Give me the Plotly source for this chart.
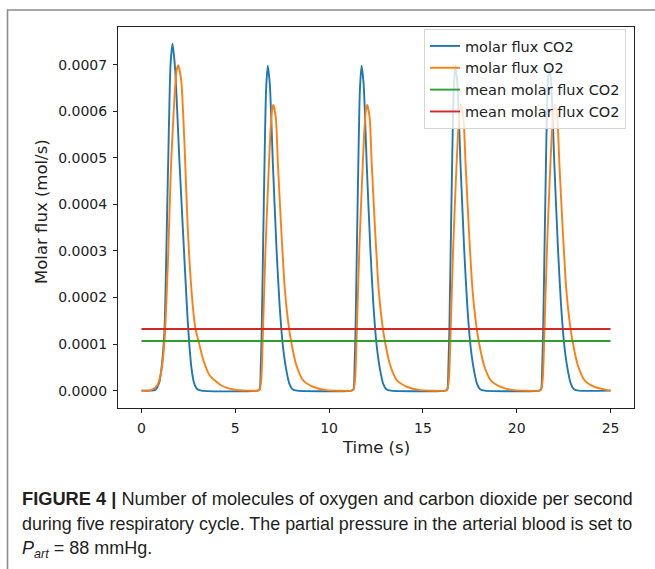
import plotly.graph_objects as go

# ---------------- data ----------------
co2_time = [
    0.00, 0.50, 0.75, 0.96, 1.10, 1.23, 1.35, 1.46, 1.55, 1.66, 1.80, 2.03, 2.30, 2.45, 2.55, 2.66, 2.80, 2.95, 3.20,
    6.20, 6.30, 6.36, 6.41, 6.48, 6.57, 6.64, 6.73, 6.84, 7.01, 7.20, 7.36, 7.48, 7.60, 7.73, 7.88, 8.05, 8.30,
    11.20, 11.30, 11.36, 11.41, 11.48, 11.57, 11.64, 11.73, 11.84, 12.01, 12.20, 12.36, 12.48, 12.60, 12.73, 12.88, 13.05, 13.30,
    16.20, 16.30, 16.36, 16.41, 16.48, 16.57, 16.64, 16.73, 16.84, 17.01, 17.20, 17.36, 17.48, 17.60, 17.73, 17.88, 18.05, 18.30,
    21.20, 21.30, 21.36, 21.41, 21.48, 21.57, 21.64, 21.73, 21.84, 22.01, 22.20, 22.36, 22.48, 22.60, 22.73, 22.88, 23.05, 23.30,
    25.00,
]
co2_flux = [
    0.0, 0.0, 0.02e-4, 0.19e-4, 0.60e-4, 1.32e-4, 3.46e-4, 5.59e-4, 7.01e-4, 7.45e-4, 6.87e-4, 4.88e-4, 2.75e-4, 1.60e-4, 1.00e-4, 0.50e-4, 0.17e-4, 0.04e-4, 0.0,
    0.0, 0.03e-4, 0.54e-4, 1.32e-4, 3.03e-4, 5.16e-4, 6.44e-4, 6.98e-4, 6.59e-4, 4.81e-4, 3.03e-4, 1.85e-4, 1.20e-4, 0.75e-4, 0.42e-4, 0.15e-4, 0.03e-4, 0.0,
    0.0, 0.03e-4, 0.54e-4, 1.32e-4, 3.03e-4, 5.16e-4, 6.44e-4, 6.98e-4, 6.59e-4, 4.81e-4, 3.03e-4, 1.85e-4, 1.20e-4, 0.75e-4, 0.42e-4, 0.15e-4, 0.03e-4, 0.0,
    0.0, 0.03e-4, 0.54e-4, 1.32e-4, 3.03e-4, 5.16e-4, 6.44e-4, 6.98e-4, 6.59e-4, 4.81e-4, 3.03e-4, 1.85e-4, 1.20e-4, 0.75e-4, 0.42e-4, 0.15e-4, 0.03e-4, 0.0,
    0.0, 0.03e-4, 0.54e-4, 1.32e-4, 3.03e-4, 5.16e-4, 6.44e-4, 6.98e-4, 6.59e-4, 4.81e-4, 3.03e-4, 1.85e-4, 1.20e-4, 0.75e-4, 0.42e-4, 0.15e-4, 0.03e-4, 0.0,
    0.0,
]

o2_time = [
    0.00, 0.40, 0.61, 0.85, 1.05, 1.23, 1.41, 1.58, 1.76, 1.87, 1.96, 2.12, 2.30, 2.47, 2.69, 2.88, 3.04, 3.28, 3.63, 4.26, 4.97,
    6.20, 6.30, 6.39, 6.48, 6.61, 6.75, 6.87, 6.96, 7.03, 7.16, 7.28, 7.46, 7.64, 7.82, 7.98, 8.26, 8.62, 9.15, 9.85,
    11.20, 11.30, 11.39, 11.48, 11.61, 11.75, 11.87, 11.96, 12.03, 12.16, 12.28, 12.46, 12.64, 12.82, 12.98, 13.26, 13.62, 14.15, 14.85,
    16.20, 16.30, 16.39, 16.48, 16.61, 16.75, 16.87, 16.96, 17.03, 17.16, 17.28, 17.46, 17.64, 17.82, 17.98, 18.26, 18.62, 19.15, 19.85,
    21.20, 21.30, 21.39, 21.48, 21.61, 21.75, 21.87, 21.96, 22.03, 22.16, 22.28, 22.46, 22.64, 22.82, 22.98, 23.26, 23.62, 24.15, 24.85,
    25.00,
]
o2_flux = [
    0.0, 0.0, 0.03e-4, 0.12e-4, 0.40e-4, 1.07e-4, 2.75e-4, 4.88e-4, 6.30e-4, 6.87e-4, 6.99e-4, 6.66e-4, 5.23e-4, 3.46e-4, 2.03e-4, 1.32e-4, 1.07e-4, 0.68e-4, 0.33e-4, 0.11e-4, 0.02e-4,
    0.0, 0.02e-4, 0.26e-4, 1.32e-4, 3.03e-4, 4.45e-4, 5.52e-4, 6.02e-4, 6.14e-4, 5.87e-4, 4.81e-4, 3.39e-4, 2.18e-4, 1.47e-4, 1.05e-4, 0.54e-4, 0.22e-4, 0.08e-4, 0.01e-4,
    0.0, 0.02e-4, 0.26e-4, 1.32e-4, 3.03e-4, 4.45e-4, 5.52e-4, 6.02e-4, 6.14e-4, 5.87e-4, 4.81e-4, 3.39e-4, 2.18e-4, 1.47e-4, 1.05e-4, 0.54e-4, 0.22e-4, 0.08e-4, 0.01e-4,
    0.0, 0.02e-4, 0.26e-4, 1.32e-4, 3.03e-4, 4.45e-4, 5.52e-4, 6.02e-4, 6.14e-4, 5.87e-4, 4.81e-4, 3.39e-4, 2.18e-4, 1.47e-4, 1.05e-4, 0.54e-4, 0.22e-4, 0.08e-4, 0.01e-4,
    0.0, 0.02e-4, 0.26e-4, 1.32e-4, 3.03e-4, 4.45e-4, 5.52e-4, 6.02e-4, 6.14e-4, 5.87e-4, 4.81e-4, 3.39e-4, 2.18e-4, 1.47e-4, 1.05e-4, 0.54e-4, 0.22e-4, 0.08e-4, 0.01e-4,
    0.0,
]

mean_time = [0.0, 25.0]
mean_green = [1.067e-4, 1.067e-4]
mean_red = [1.323e-4, 1.323e-4]

series_names = ["molar flux CO2", "molar flux O2", "mean molar flux CO2", "mean molar flux CO2"]
series_colors = ["#1f77b4", "#ff7f0e", "#2ca02c", "#d62728"]

x_ticks = [0, 5, 10, 15, 20, 25]
y_ticks = [0.0, 0.0001, 0.0002, 0.0003, 0.0004, 0.0005, 0.0006, 0.0007]
y_tick_labels = ["0.0000", "0.0001", "0.0002", "0.0003", "0.0004", "0.0005", "0.0006", "0.0007"]

caption_lines = [
    "<b>FIGURE 4 |</b> Number of molecules of oxygen and carbon dioxide per second",
    "during five respiratory cycle. The partial pressure in the arterial blood is set to",
    "<i>P</i><sub><i>art</i></sub> = 88 mmHg.",
]

# ---------------- figure ----------------
W, H = 655, 569
fig = go.Figure()

xs = [co2_time, o2_time, mean_time, mean_time]
ys = [co2_flux, o2_flux, mean_green, mean_red]
for i in range(4):
    fig.add_trace(go.Scatter(
        x=xs[i], y=ys[i], mode="lines", name=series_names[i],
        line=dict(color=series_colors[i], width=1.9, shape="spline" if i < 2 else "linear", smoothing=0.6),
        hoverinfo="skip",
    ))

tick_font = dict(family="DejaVu Sans", size=14, color="#222222")

px_left, px_right, px_top, px_bottom = 118, 634, 26.5, 408

fig.update_layout(
    width=W, height=H,
    margin=dict(l=0, r=0, t=0, b=0),
    paper_bgcolor="white", plot_bgcolor="white",
    showlegend=True,
    legend=dict(
        x=626 / W, y=1 - 29 / H, xanchor="right", yanchor="top",
        bgcolor="rgba(255,255,255,0.8)", bordercolor="#d5d5d5", borderwidth=1,
        font=dict(family="DejaVu Sans", size=14.5, color="#222222"),
        itemwidth=30, tracegroupgap=0,
    ),
    xaxis=dict(
        domain=[px_left / W, px_right / W], automargin=False,
        range=[-1.25, 26.25], tickvals=x_ticks,
        ticks="outside", ticklen=4, tickwidth=1, tickcolor="#222",
        showline=True, mirror=True, linecolor="#222", linewidth=1,
        showgrid=False, zeroline=False, tickfont=tick_font, ticklabelstandoff=3,
    ),
    yaxis=dict(
        domain=[1 - px_bottom / H, 1 - px_top / H], automargin=False,
        range=[-0.0000373, 0.000782], tickvals=y_ticks, ticktext=y_tick_labels,
        ticks="outside", ticklen=4, tickwidth=1, tickcolor="#222",
        showline=True, mirror=True, linecolor="#222", linewidth=1,
        showgrid=False, zeroline=False, tickfont=tick_font, ticklabelstandoff=3,
    ),
)

# axis titles
fig.add_annotation(text="Time (s)", x=376 / W, y=1 - 447 / H, xref="paper", yref="paper",
                   showarrow=False, xanchor="center", yanchor="middle",
                   font=dict(family="DejaVu Sans", size=16.5, color="#222222"))
fig.add_annotation(text="Molar flux (mol/s)", x=41 / W, y=1 - 212 / H, xref="paper", yref="paper",
                   showarrow=False, xanchor="center", yanchor="middle", textangle=-90,
                   font=dict(family="DejaVu Sans", size=16.5, color="#222222"))

# caption
cap_y = [498, 524, 549]
cap_size = [18.25, 17.9, 18]
for line, yy, fs in zip(caption_lines, cap_y, cap_size):
    fig.add_annotation(text=line, x=20 / W, y=1 - yy / H, xref="paper", yref="paper",
                       showarrow=False, xanchor="left", yanchor="middle", align="left",
                       font=dict(family="Liberation Sans", size=fs, color="#231f20"))

# outer frame (top and left edges visible; right/bottom run off the image)
fig.add_shape(type="rect", xref="paper", yref="paper",
              x0=7.5 / W, x1=1.05, y0=-0.05, y1=1 - 10 / H,
              line=dict(color="#8c8c8c", width=1.6), fillcolor="rgba(0,0,0,0)", layer="below")

fig.write_html("out.html", config={"displayModeBar": False},
               post_script="document.body.style.margin='0';")
